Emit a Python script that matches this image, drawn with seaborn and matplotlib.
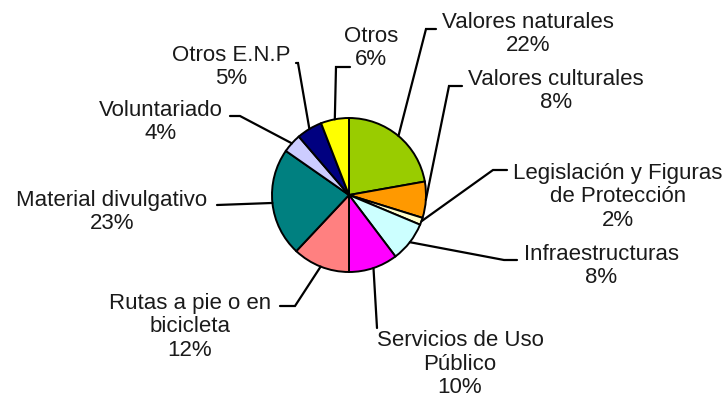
import numpy as np
import matplotlib
matplotlib.use("Agg")
import matplotlib.pyplot as plt
import seaborn as sns

# Datos (porcentajes estimados del gráfico, sentido horario desde arriba)
categorias = ["Valores naturales", "Valores culturales",
              "Legislación y Figuras\nde Protección", "Infraestructuras",
              "Servicios de Uso\nPúblico", "Rutas a pie o en\nbicicleta",
              "Material divulgativo", "Voluntariado", "Otros E.N.P", "Otros"]
valores = [22.2, 7.6, 1.5, 8.4, 10.3, 12.0, 22.7, 4.0, 5.4, 5.9]
colores = ["#99CC00", "#FF9900", "#FFFFCC", "#CCFFFF", "#FF00FF",
           "#FF8080", "#008080", "#CCCCFF", "#000080", "#FFFF00"]

# Posición de las etiquetas en píxeles (centro del texto) y codos de las guías
texto_xy = [(528, 34), (556, 91), (618, 197), (601, 266), (460, 364),
            (190, 327), (112, 212), (161, 122), (231, 67), (371, 48)]
codo_xy = [(426, 29), (449, 86), (493, 170), (504, 260), (377, 328),
           (295, 306), (217, 205), (240, 116), (298, 63), (336, 67)]
fin_xy = [(436, 29), (462, 86), (507, 170), (517, 260), (377, 328),
          (280, 306), (217, 205), (230, 116), (296, 63), (350, 67)]

sns.set_style("white")
plt.rcParams["font.family"] = ["Liberation Sans", "DejaVu Sans"]

W, H = 728, 401
cx, cy, r = 349, 195, 77

fig = plt.figure(figsize=(W / 100, H / 100), dpi=100)
ax = fig.add_axes([0, 0, 1, 1])

paleta = sns.color_palette(colores)
wedges, _ = ax.pie(valores, colors=paleta, startangle=90, counterclock=False,
                   radius=1, wedgeprops=dict(edgecolor="black", linewidth=1.4))

ax.set_xlim(-cx / r, (W - cx) / r)
ax.set_ylim(-(H - cy) / r, cy / r)
ax.axis("off")


def px(p):
    return ((p[0] - cx) / r, (cy - p[1]) / r)


for w, cat, v, t, c, f in zip(wedges, categorias, valores, texto_xy, codo_xy, fin_xy):
    ang = np.deg2rad((w.theta1 + w.theta2) / 2)
    borde = (np.cos(ang), np.sin(ang))
    c_d, f_d = px(c), px(f)
    ax.plot([borde[0], c_d[0], f_d[0]], [borde[1], c_d[1], f_d[1]],
            color="black", lw=1.6, solid_joinstyle="miter")
    tx, ty = px(t)
    ax.text(tx, ty, f"{cat}\n{v:.0f}%", ha="center", va="center",
            multialignment="center", fontsize=16, linespacing=1.18,
            color="#1a1a1a")

fig.savefig("out.png", dpi=100, facecolor="white")
